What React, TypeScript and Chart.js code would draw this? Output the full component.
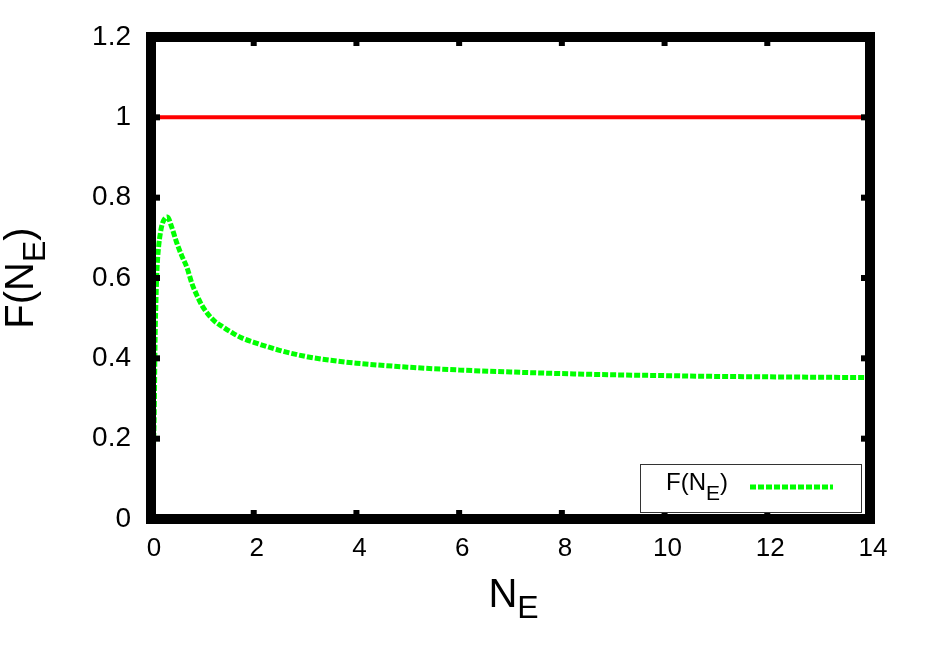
import React, { useEffect, useRef } from "react";
import { Chart, registerables } from "chart.js";

Chart.register(...registerables);

const nE = [0, 0.06, 0.08, 0.1, 0.12, 0.15, 0.18, 0.22, 0.28, 0.32, 0.4, 0.5, 0.6, 0.7, 0.8, 0.9, 1.0, 1.2, 1.4, 1.6, 1.8, 2.0, 2.5, 3, 3.5, 4, 5, 6, 7, 8, 9, 10, 11, 12, 13, 14];
const fNE = [0.1, 0.24, 0.45, 0.56, 0.63, 0.68, 0.71, 0.735, 0.75, 0.752, 0.728, 0.688, 0.655, 0.626, 0.585, 0.555, 0.53, 0.497, 0.478, 0.462, 0.449, 0.44, 0.42, 0.405, 0.395, 0.388, 0.378, 0.371, 0.366, 0.362, 0.359, 0.357, 0.355, 0.354, 0.353, 0.352];
const refX = [0, 14];
const refY = [1, 1];
const xTickLabels = ["0", "2", "4", "6", "8", "10", "12", "14"];
const yTickLabels = ["0", "0.2", "0.4", "0.6", "0.8", "1", "1.2"];

const FONT = "'Liberation Sans', Arial, Helvetica, sans-serif";

const decorPlugin = {
  id: "decor",
  afterDraw(chart: any) {
    const { ctx, chartArea } = chart;
    const { left, top, right, bottom } = chartArea;
    const xs = chart.scales.x;
    const ys = chart.scales.y;
    ctx.save();
    ctx.fillStyle = "#000";
    // inward ticks (mirrored)
    xs.ticks.forEach((t: any) => {
      const px = xs.getPixelForValue(t.value);
      ctx.fillRect(px - 3, bottom - 9, 6, 9);
      ctx.fillRect(px - 3, top, 6, 9);
    });
    ys.ticks.forEach((t: any) => {
      const py = ys.getPixelForValue(t.value);
      ctx.fillRect(left, py - 3, 9, 6);
      ctx.fillRect(right - 9, py - 3, 9, 6);
    });
    // border
    ctx.lineWidth = 10;
    ctx.strokeStyle = "#000";
    ctx.lineJoin = "miter";
    ctx.strokeRect(left, top, right - left, bottom - top);

    // legend
    const lx = right - 230;
    const ly = bottom - 55;
    const lw = 221;
    const lh = 48;
    ctx.fillStyle = "#fff";
    ctx.fillRect(lx, ly, lw, lh);
    ctx.lineWidth = 1;
    ctx.strokeStyle = "#333";
    ctx.strokeRect(lx + 0.5, ly + 0.5, lw, lh);
    ctx.fillStyle = "#000";
    ctx.textBaseline = "alphabetic";
    ctx.textAlign = "left";
    let tx = lx + 26;
    const tb = ly + 26;
    ctx.font = `24px ${FONT}`;
    ctx.fillText("F(N", tx, tb);
    tx += ctx.measureText("F(N").width;
    ctx.font = `21px ${FONT}`;
    ctx.fillText("E", tx, tb + 10);
    tx += ctx.measureText("E").width;
    ctx.font = `24px ${FONT}`;
    ctx.fillText(")", tx, tb);
    ctx.beginPath();
    ctx.setLineDash([6, 2]);
    ctx.lineWidth = 5;
    ctx.strokeStyle = "#00ff00";
    ctx.moveTo(lx + 110, ly + 23);
    ctx.lineTo(lx + 193, ly + 23);
    ctx.stroke();
    ctx.setLineDash([]);

    // x title
    ctx.fillStyle = "#000";
    ctx.font = `40px ${FONT}`;
    const wN = ctx.measureText("N").width;
    ctx.font = `32px ${FONT}`;
    const wE = ctx.measureText("E").width;
    const cx = (left + right) / 2 + 3;
    const x0 = cx - (wN + wE) / 2;
    ctx.font = `40px ${FONT}`;
    ctx.fillText("N", x0, 607);
    ctx.font = `32px ${FONT}`;
    ctx.fillText("E", x0 + wN, 618);

    // y title
    ctx.save();
    ctx.translate(33, 278);
    ctx.rotate(-Math.PI / 2);
    ctx.font = `40px ${FONT}`;
    const a = ctx.measureText("F(N").width;
    const c = ctx.measureText(")").width;
    ctx.font = `32px ${FONT}`;
    const b = ctx.measureText("E").width;
    const total = a + b + c;
    let yx = -total / 2;
    ctx.font = `40px ${FONT}`;
    ctx.fillText("F(N", yx, 0);
    yx += a;
    ctx.font = `32px ${FONT}`;
    ctx.fillText("E", yx, 12);
    yx += b;
    ctx.font = `40px ${FONT}`;
    ctx.fillText(")", yx, 0);
    ctx.restore();

    ctx.restore();
  },
};

export default function App() {
  const ref = useRef<HTMLCanvasElement | null>(null);
  useEffect(() => {
    if (!ref.current) return;
    const chart = new Chart(ref.current, {
      type: "line",
      data: {
        datasets: [
          {
            label: "ref",
            data: refX.map((x, i) => ({ x, y: refY[i] })),
            borderColor: "#ff0000",
            borderWidth: 4,
            pointRadius: 0,
            fill: false,
          },
          {
            label: "F(N_E)",
            data: nE.map((x, i) => ({ x, y: fNE[i] })),
            borderColor: "#00ff00",
            borderWidth: 5,
            borderDash: [6, 2],
            borderCapStyle: "butt",
            pointRadius: 0,
            cubicInterpolationMode: "monotone",
            fill: false,
          },
        ],
      },
      options: {
        animation: false,
        responsive: false,
        devicePixelRatio: 1,
        layout: { padding: { left: 0, top: 37, right: 56, bottom: 0 } },
        plugins: { legend: { display: false }, tooltip: { enabled: false } },
        scales: {
          x: {
            type: "linear",
            min: 0,
            max: 14,
            ticks: {
              stepSize: 2,
              color: "#000",
              font: { family: FONT, size: 26 },
              padding: 14,
              labelOffset: 3,
              maxRotation: 0,
              callback: (_v: any, i: number) => xTickLabels[i],
            },
            grid: { display: false, drawTicks: false },
            border: { display: false },
            afterFit: (s: any) => {
              s.height = 130;
            },
          },
          y: {
            type: "linear",
            min: 0,
            max: 1.2,
            ticks: {
              stepSize: 0.2,
              color: "#000",
              font: { family: FONT, size: 28 },
              padding: 20,
              callback: (_v: any, i: number) => yTickLabels[i],
            },
            grid: { display: false, drawTicks: false },
            border: { display: false },
            afterFit: (s: any) => {
              s.width = 151;
            },
          },
        },
      },
      plugins: [decorPlugin],
    });
    return () => chart.destroy();
  }, []);
  return (
    <div style={{ position: "fixed", left: 0, top: 0, width: 926, height: 649, background: "#fff" }}>
      <canvas ref={ref} width={926} height={649} />
    </div>
  );
}
